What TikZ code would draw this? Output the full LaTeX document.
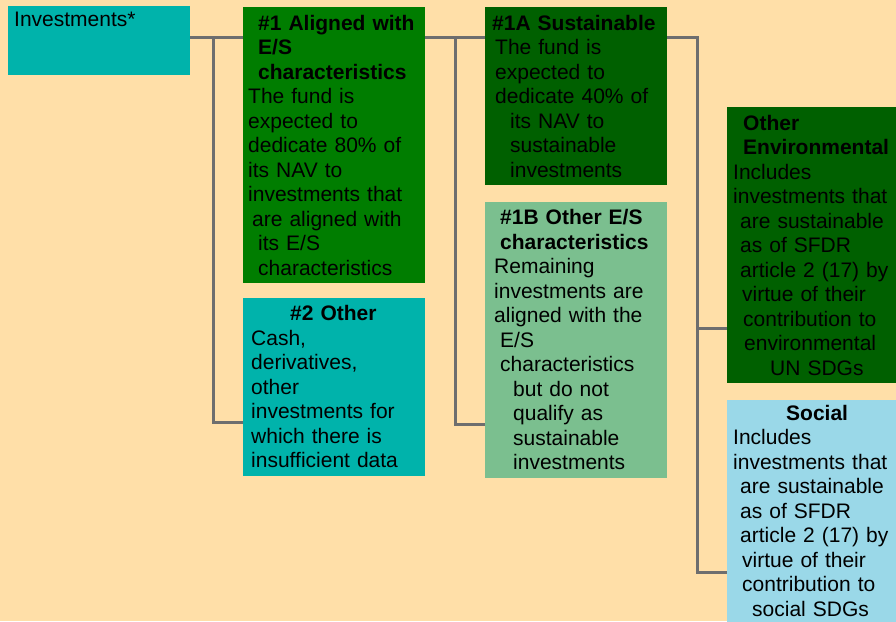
\documentclass[tikz,border=0pt]{standalone}
\usepackage{fontspec}
\setmainfont{Liberation Sans}
\usepackage{xcolor}
\usetikzlibrary{positioning}

\definecolor{bgpeach}{RGB}{255,223,168}
\definecolor{boxteal}{RGB}{0,179,171}
\definecolor{boxgreen}{RGB}{0,125,0}
\definecolor{boxdark}{RGB}{0,96,0}
\definecolor{boxlight}{RGB}{123,191,143}
\definecolor{boxblue}{RGB}{154,216,232}
\definecolor{linegray}{RGB}{110,110,110}

\newcommand{\ind}[1]{\hspace*{#1pt}}

\begin{document}
\begin{tikzpicture}[x=1pt,y=-1pt,
  n/.style={anchor=north west,align=left,inner ysep=0pt,inner xsep=5pt,
    text width=172pt,minimum width=182pt,font=\fontsize{21}{24.5}\selectfont},
  nr/.style={n,inner xsep=6pt,text width=157pt,minimum width=169pt},
  link/.style={draw=linegray,line width=3pt}]
\useasboundingbox (0,0) rectangle (896,621);
\fill[bgpeach] (0,0) rectangle (896,621);

\node[n,fill=boxteal,inner xsep=6pt,inner ysep=5pt,text width=170pt,
  text height=15pt,text depth=44pt] (inv) at (8,6) {Investments*};

\node[n,fill=boxgreen,minimum height=276pt] (n1) at (243,7)
  {\ind{10}\textbf{\#1 Aligned with}\\ \ind{10}\textbf{E/S}\\ \ind{10}\textbf{characteristics}\\
   The fund is\\ expected to\\ dedicate 80\% of\\ its NAV to\\ investments that\\
   \ind{4}are aligned with\\ \ind{10}its E/S\\ \ind{10}characteristics};
\node[n,fill=boxteal,minimum height=178pt,below=14pt of n1] (n2)
  {\ind{42}\textbf{\#2 Other}\\ \ind{3}Cash,\\ \ind{3}derivatives,\\ \ind{3}other\\
   \ind{3}investments for\\ \ind{3}which there is\\ \ind{3}insufficient data};

\node[n,fill=boxdark,minimum height=178pt] (n1a) at (485,7)
  {\ind{2}\textbf{\#1A Sustainable}\\ \ind{5}The fund is\\ \ind{5}expected to\\
   \ind{5}dedicate 40\% of\\ \ind{20}its NAV to\\ \ind{20}sustainable\\ \ind{20}investments};
\node[n,fill=boxlight,minimum height=276pt,below=16pt of n1a] (n1b)
  {\ind{10}\textbf{\#1B Other E/S}\\ \ind{10}\textbf{characteristics}\\ \ind{4}Remaining\\
   \ind{4}investments are\\ \ind{4}aligned with the\\ \ind{10}E/S\\ \ind{10}characteristics\\
   \ind{23}but do not\\ \ind{23}qualify as\\ \ind{23}sustainable\\ \ind{23}investments};

\node[nr,fill=boxdark,minimum height=276pt] (env) at (727,107)
  {\ind{10}\textbf{Other}\\ \ind{10}\textbf{Environmental}\\ Includes\\ investments that\\
   \ind{7}are sustainable\\ \ind{7}as of SFDR\\ \ind{7}article 2 (17) by\\ \ind{9}virtue of their\\
   \ind{10}contribution to\\ \ind{11}environmental\\ \ind{37}UN SDGs};
\node[nr,fill=boxblue,minimum height=222pt,below=16pt of env] (soc)
  {\ind{53}\textbf{Social}\\ Includes\\ investments that\\ \ind{7}are sustainable\\
   \ind{7}as of SFDR\\ \ind{7}article 2 (17) by\\ \ind{9}virtue of their\\
   \ind{9}contribution to\\ \ind{19}social SDGs};

% connectors
\coordinate (j1) at (213,37);
\coordinate (j2) at (455,37);
\coordinate (j3) at (697,37);
\draw[link] (inv.east |- j1) -- (n1.west |- j1);
\draw[link] (j1) |- (n2.west |- 0,422);
\draw[link] (n1.east |- j2) -- (n1a.west |- j2);
\draw[link] (j2) |- (n1b.west |- 0,424);
\draw[link] (n1a.east |- j3) -- (j3) |- (soc.west |- 0,572);
\draw[link] (j3 |- 0,328) -- (env.west |- 0,328);
\end{tikzpicture}
\end{document}
